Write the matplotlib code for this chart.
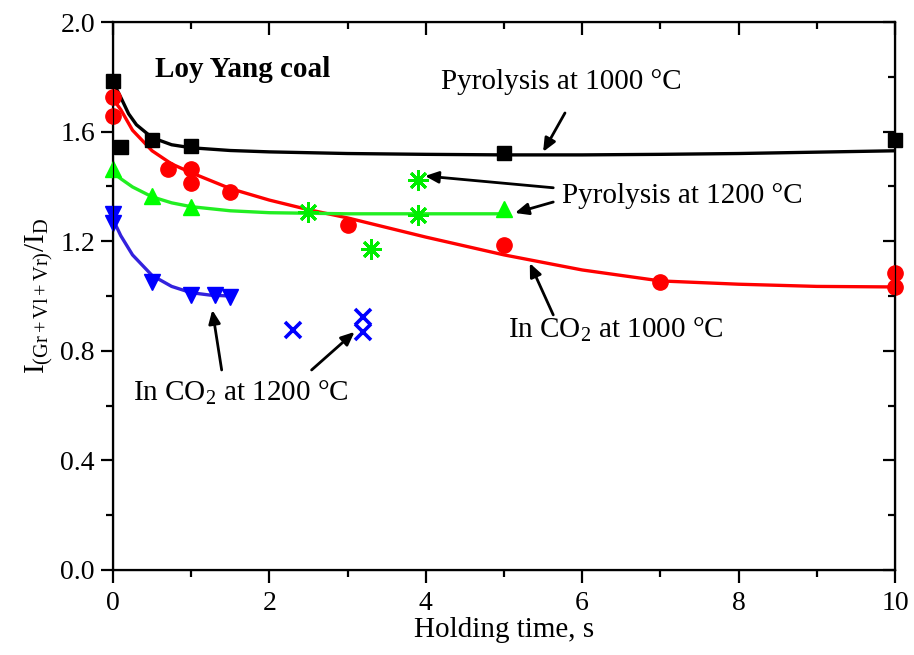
import numpy as np
import matplotlib
matplotlib.use("Agg")
import matplotlib.pyplot as plt

plt.rcParams["font.family"] = ["Liberation Serif", "DejaVu Serif"]
plt.rcParams["mathtext.fontset"] = "custom"
plt.rcParams["mathtext.rm"] = "Liberation Serif"
plt.rcParams["mathtext.it"] = "Liberation Serif:italic"

# --- measured points ---
pyro1000_t = [0.0, 0.1, 0.5, 1.0, 5.0, 10.0]
pyro1000_i = [1.785, 1.545, 1.570, 1.548, 1.523, 1.570]

co2_1000_t = [0.0, 0.0, 0.7, 1.0, 1.0, 1.5, 3.0, 5.0, 7.0, 10.0, 10.0]
co2_1000_i = [1.726, 1.657, 1.462, 1.462, 1.413, 1.378, 1.260, 1.186, 1.051, 1.084, 1.034]

pyro1200_t = [0.0, 0.5, 1.0, 5.0]
pyro1200_i = [1.464, 1.365, 1.325, 1.318]

pyro1200b_t = [2.5, 3.3, 3.9, 3.9]
pyro1200b_i = [1.307, 1.170, 1.296, 1.423]

co2_1200_t = [0.0, 0.0, 0.5, 1.0, 1.3, 1.5]
co2_1200_i = [1.300, 1.268, 1.052, 1.003, 1.003, 0.995]

co2_1200b_t = [2.3, 3.2, 3.2]
co2_1200b_i = [0.876, 0.925, 0.868]

# --- fitted trend lines ---
fit_p1000_t = [0.02, 0.1, 0.2, 0.3, 0.5, 0.75, 1.0, 1.5, 2.0, 3.0, 4.0, 5.0, 6.0, 7.0, 8.0, 9.0, 10.0]
fit_p1000_i = [1.770, 1.725, 1.665, 1.625, 1.578, 1.552, 1.541, 1.531, 1.526, 1.520, 1.517, 1.515,
               1.515, 1.517, 1.520, 1.525, 1.530]

fit_c1000_t = [0.0, 0.1, 0.25, 0.5, 0.75, 1.0, 1.5, 2.0, 2.5, 3.0, 4.0, 5.0, 6.0, 7.0, 8.0, 9.0, 10.0]
fit_c1000_i = [1.720, 1.680, 1.605, 1.530, 1.482, 1.450, 1.392, 1.350, 1.315, 1.285, 1.215, 1.150,
               1.095, 1.055, 1.043, 1.035, 1.033]

fit_p1200_t = [0.0, 0.1, 0.25, 0.5, 0.75, 1.0, 1.5, 2.0, 3.0, 4.0, 5.0]
fit_p1200_i = [1.450, 1.428, 1.398, 1.362, 1.340, 1.326, 1.311, 1.304, 1.300, 1.300, 1.300]

fit_c1200_t = [0.0, 0.1, 0.25, 0.5, 0.75, 1.0, 1.25, 1.5]
fit_c1200_i = [1.280, 1.220, 1.150, 1.075, 1.035, 1.012, 1.003, 1.000]

fig = plt.figure(figsize=(9.14, 6.55), dpi=100)
ax = fig.add_axes([0.1236, 0.1298, 0.8556, 0.8366])

ax.plot(fit_p1000_t, fit_p1000_i, color="black", lw=2.4, zorder=2)
ax.plot(fit_c1000_t, fit_c1000_i, color="#ff0000", lw=2.4, zorder=2)
ax.plot(fit_p1200_t, fit_p1200_i, color="#22ee22", lw=2.4, zorder=2)
ax.plot(fit_c1200_t, fit_c1200_i, color="#3322dd", lw=2.4, zorder=2)

ax.plot(pyro1000_t, pyro1000_i, "s", color="black", ms=10, ls="none", zorder=3, clip_on=False)
ax.plot(co2_1000_t, co2_1000_i, "o", color="#ff0000", ms=11, ls="none", zorder=3, clip_on=False)
ax.plot(pyro1200_t, pyro1200_i, "^", color="#00ff00", ms=12, ls="none", zorder=3, clip_on=False)
ax.plot(pyro1200b_t, pyro1200b_i, marker=(8, 2, 0), color="#00ee00", ms=15, mew=2.1,
        ls="none", zorder=3)
ax.plot(co2_1200_t, co2_1200_i, "v", color="#0000ff", ms=12, ls="none", zorder=3, clip_on=False)
ax.plot(co2_1200b_t, co2_1200b_i, "x", color="#0000ff", ms=12, mew=2.6, ls="none", zorder=3)

ax.set_xlim(0, 10)
ax.set_ylim(0, 2.0)
ax.set_xticks(np.arange(0, 11, 2))
ax.set_xticks(np.arange(1, 10, 2), minor=True)
ax.set_yticks(np.arange(0, 2.01, 0.4))
ax.set_yticks(np.arange(0.2, 2.0, 0.4), minor=True)
ax.xaxis.set_major_formatter(matplotlib.ticker.FormatStrFormatter("%d"))
ax.yaxis.set_major_formatter(matplotlib.ticker.FormatStrFormatter("%.1f"))

for s in ax.spines.values():
    s.set_linewidth(1.6)
ax.tick_params(which="both", direction="out", width=1.6, labelsize=20, top=False, right=False)
ax.tick_params(which="major", length=9, pad=4)
ax.tick_params(axis="x", which="major", pad=6)
ax.tick_params(which="minor", length=5)

# mirrored inward ticks on the top and right edges
axt = ax.twiny()
axt.set_xlim(ax.get_xlim())
axt.set_xticks(ax.get_xticks())
axt.set_xticks(np.arange(1, 10, 2), minor=True)
axt.tick_params(which="both", direction="in", width=1.6, labeltop=False)
axt.tick_params(which="major", length=9)
axt.tick_params(which="minor", length=5)
axr = ax.twinx()
axr.set_ylim(ax.get_ylim())
axr.set_yticks(ax.get_yticks())
axr.set_yticks(np.arange(0.2, 2.0, 0.4), minor=True)
axr.tick_params(which="both", direction="in", width=1.6, labelright=False)
axr.tick_params(which="major", length=9)
axr.tick_params(which="minor", length=5)

ax.set_xlabel("Holding time, s", fontsize=21, labelpad=1)
ax.set_ylabel(r"$\mathrm{I}_{\mathrm{(Gr+Vl+Vr)}}/\mathrm{I}_{\mathrm{D}}$", fontsize=21, labelpad=4)

fs = 21
ax.text(0.54, 1.825, "Loy Yang coal", fontsize=fs, fontweight="bold", ha="left", va="center")
ax.text(4.19, 1.78, "Pyrolysis at 1000 °C", fontsize=fs, ha="left", va="center")
ax.text(5.74, 1.365, "Pyrolysis at 1200 °C", fontsize=fs, ha="left", va="center")
ax.text(5.05, 0.876, r"In CO$_2$ at 1000 °C", fontsize=fs, ha="left", va="center")
ax.text(0.26, 0.646, r"In CO$_2$ at 1200 °C", fontsize=fs, ha="left", va="center")

arrow = dict(arrowstyle="-|>,head_length=0.8,head_width=0.35", color="black", lw=2,
             shrinkA=0, shrinkB=0)
arrows = [
    ((5.78, 1.668), (5.50, 1.526)),
    ((5.63, 1.395), (3.99, 1.438)),
    ((5.63, 1.343), (5.14, 1.303)),
    ((5.63, 0.931), (5.33, 1.120)),
    ((1.39, 0.730), (1.27, 0.949)),
    ((2.54, 0.730), (3.09, 0.869)),
]
for tail, head in arrows:
    ax.annotate("", xy=head, xytext=tail, arrowprops=arrow, zorder=4)

fig.savefig("out.png", dpi=100)
